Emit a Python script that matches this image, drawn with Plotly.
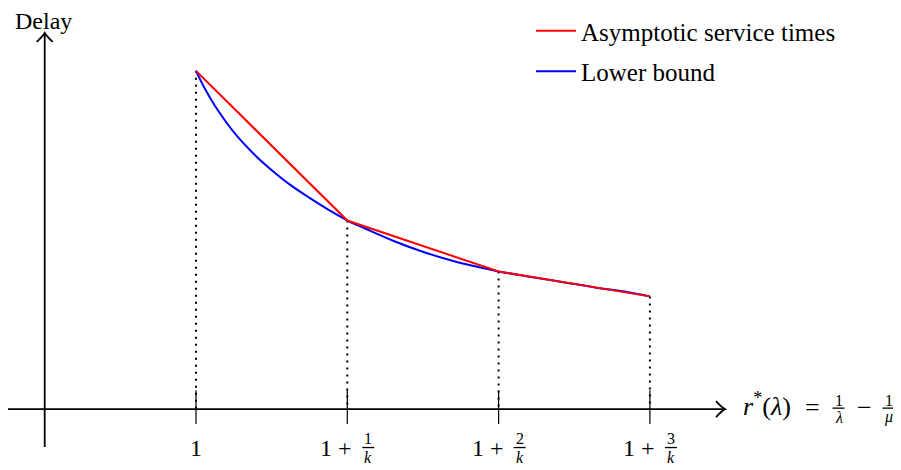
import plotly.graph_objects as go

# ---------------- data ----------------
tick_vals = [1, 2, 3, 4]
tick_lead = ["1", "1 +", "1 +", "1 +"]
tick_num = ["", "1", "2", "3"]
tick_den = ["", "k", "k", "k"]

service_x = [1, 2, 3, 4]
service_y = [3.39, 1.89, 1.38, 1.13]

bound_x = [1.0, 1.059, 1.125, 1.258, 1.390, 1.489, 1.621, 1.753, 1.885, 2.0,
           2.117, 2.315, 2.513, 2.712, 2.910, 3.0, 3.194, 3.419, 3.637, 3.855, 4.0]
bound_y = [3.39, 3.21, 3.04, 2.76, 2.545, 2.41, 2.25, 2.115, 1.99, 1.89,
           1.81, 1.68, 1.57, 1.48, 1.41, 1.38, 1.33, 1.275, 1.22, 1.172, 1.13]

series_names = ["Asymptotic service times", "Lower bound"]
y_title = "Delay"

# ---------------- layout helpers ----------------
OFF = 8                 # page body margin of the browser
W, H = 901 - OFF, 470 - OFF
X0, SX = 44.7, 151.3    # window pixel of x=0, pixels per unit
Y0, SY = 409.0, 100.0   # window pixel of y=0, pixels per unit
FONT = "Liberation Serif, DejaVu Serif, serif"


def px2x(px):
    return (px - X0) / SX


def py2y(py):
    return (Y0 - py) / SY


fig = go.Figure()

# dotted drop lines
dx, dy = [], []
for xv, yv in zip(service_x, service_y):
    dx += [xv, xv, None]
    dy += [yv, 0, None]
fig.add_trace(go.Scatter(x=dx, y=dy, mode="lines", showlegend=False, hoverinfo="skip",
                         line=dict(color="black", width=2, dash="2px,5px")))

# tick marks
tx, ty = [], []
for tv in tick_vals:
    tx += [tv, tv, None]
    ty += [py2y(390), py2y(424), None]
fig.add_trace(go.Scatter(x=tx, y=ty, mode="lines", showlegend=False, hoverinfo="skip",
                         line=dict(color="black", width=1.2)))

# lower bound (blue)
fig.add_trace(go.Scatter(x=bound_x, y=bound_y, mode="lines", name=series_names[1],
                         legendrank=2, legendgroup="b",
                         line=dict(color="#0000ff", width=2, shape="spline", smoothing=1.0)))
# asymptotic service times (red)
fig.add_trace(go.Scatter(x=service_x, y=service_y, mode="lines", name=series_names[0],
                         legendrank=1, legendgroup="a",
                         line=dict(color="#ff0000", width=2)))

shapes = []
annotations = []

# axes lines
shapes.append(dict(type="line", xref="x", yref="y", x0=px2x(7.3), x1=px2x(724), y0=0, y1=0,
                   line=dict(color="black", width=1.8), layer="below"))
shapes.append(dict(type="line", xref="x", yref="y", x0=0, x1=0, y0=py2y(447), y1=py2y(33),
                   line=dict(color="black", width=1.8), layer="below"))
# arrow heads
shapes.append(dict(type="path", xref="x", yref="y", xsizemode="pixel", ysizemode="pixel",
                   xanchor=px2x(725), yanchor=0,
                   path="M-9,-8 Q-3,-1.5 0,0 Q-3,1.5 -9,8",
                   line=dict(color="black", width=1.8), fillcolor="rgba(0,0,0,0)"))
shapes.append(dict(type="path", xref="x", yref="y", xsizemode="pixel", ysizemode="pixel",
                   xanchor=0, yanchor=py2y(32),
                   path="M-8,-9 Q-1.5,-3 0,0 Q1.5,-3 8,-9",
                   line=dict(color="black", width=1.8), fillcolor="rgba(0,0,0,0)"))

# tick labels
for tv, lead, num, den in zip(tick_vals, tick_lead, tick_num, tick_den):
    if num == "":
        annotations.append(dict(x=tv, y=py2y(448), xref="x", yref="y", text=lead, showarrow=False,
                                xanchor="center", yanchor="middle",
                                font=dict(family=FONT, size=24, color="black")))
    else:
        annotations.append(dict(x=tv, y=py2y(448), xref="x", yref="y", text=lead, showarrow=False,
                                xanchor="right", yanchor="middle", xshift=7,
                                font=dict(family=FONT, size=24, color="black")))
        annotations.append(dict(x=tv, y=py2y(438.5), xref="x", yref="y", text=num, showarrow=False,
                                xanchor="center", yanchor="middle", xshift=21,
                                font=dict(family=FONT, size=16, color="black")))
        annotations.append(dict(x=tv, y=py2y(457), xref="x", yref="y", text="<i>" + den + "</i>",
                                showarrow=False, xanchor="center", yanchor="middle", xshift=21,
                                font=dict(family=FONT, size=16, color="black")))
        shapes.append(dict(type="line", xref="x", yref="y", xsizemode="pixel", xanchor=tv,
                           x0=15, x1=27, y0=py2y(447.5), y1=py2y(447.5),
                           line=dict(color="black", width=1.3)))

# y title
annotations.append(dict(x=px2x(43.5), y=py2y(20), xref="x", yref="y", text=y_title, showarrow=False,
                        xanchor="center", yanchor="middle",
                        font=dict(family=FONT, size=24, color="black")))

# x title: r*(λ) = 1/λ − 1/μ
annotations.append(dict(x=px2x(741), y=py2y(404), xref="x", yref="y",
                        text="<i>r</i><sup>*</sup>(<i>λ</i>)", showarrow=False,
                        xanchor="left", yanchor="middle",
                        font=dict(family=FONT, size=26, color="black")))
annotations.append(dict(x=px2x(812.5), y=py2y(407), xref="x", yref="y", text="=", showarrow=False,
                        xanchor="center", yanchor="middle",
                        font=dict(family=FONT, size=26, color="black")))
annotations.append(dict(x=px2x(864.5), y=py2y(407), xref="x", yref="y", text="−", showarrow=False,
                        xanchor="center", yanchor="middle",
                        font=dict(family=FONT, size=26, color="black")))
for cx, den in [(838.5, "λ"), (888.5, "μ")]:
    annotations.append(dict(x=px2x(cx), y=py2y(400.5), xref="x", yref="y", text="1", showarrow=False,
                            xanchor="center", yanchor="middle",
                            font=dict(family=FONT, size=16, color="black")))
    annotations.append(dict(x=px2x(cx), y=py2y(417), xref="x", yref="y", text="<i>" + den + "</i>",
                            showarrow=False, xanchor="center", yanchor="middle",
                            font=dict(family=FONT, size=16, color="black")))
    shapes.append(dict(type="line", xref="x", yref="y", x0=px2x(cx - 6), x1=px2x(cx + 6),
                       y0=py2y(408), y1=py2y(408), line=dict(color="black", width=1.3)))

fig.update_layout(
    width=W, height=H, autosize=False,
    margin=dict(l=0, r=0, t=0, b=0),
    paper_bgcolor="white", plot_bgcolor="white",
    xaxis=dict(range=[px2x(OFF), px2x(OFF + W)], showgrid=False, zeroline=False,
               showticklabels=False, showline=False, ticks=""),
    yaxis=dict(range=[py2y(OFF + H), py2y(OFF)], showgrid=False, zeroline=False,
               showticklabels=False, showline=False, ticks=""),
    showlegend=True,
    legend=dict(x=(531 - OFF) / W, y=1 - (7 - OFF) / H, xanchor="left", yanchor="top",
                bgcolor="rgba(0,0,0,0)", borderwidth=0, itemwidth=40,
                font=dict(family=FONT, size=25, color="black"),
                traceorder="grouped", tracegroupgap=5),
    shapes=shapes,
    annotations=annotations,
)

fig.write_html("out.html")
